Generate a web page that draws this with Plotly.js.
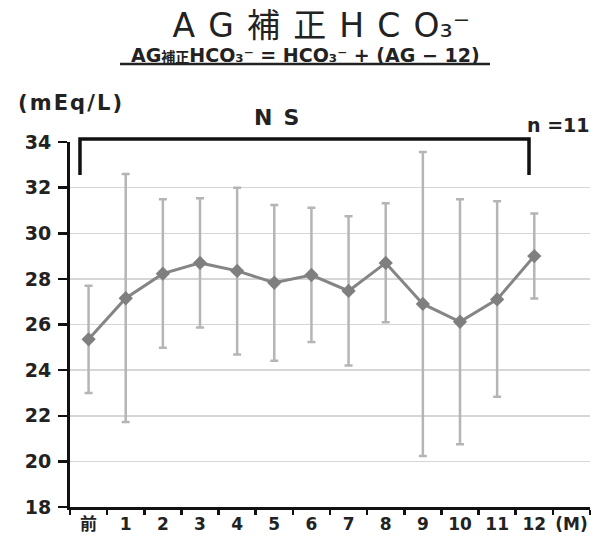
<!DOCTYPE html>
<html><head><meta charset="utf-8">
<script src="https://cdn.plot.ly/plotly-3.0.1.min.js"></script>
<style>body{margin:0;background:#fff}#c{width:604px;height:543px}</style>
</head><body><div id="c"></div>
<script>
// categories (months)
const months = ['前','1','2','3','4','5','6','7','8','9','10','11','12'];
const axisEndLabel = '(M)';
// mean AG-corrected HCO3- (mEq/L)
const meanVals = [25.35, 27.15, 28.23, 28.7, 28.35, 27.83, 28.17, 27.47, 28.7, 26.9, 26.12, 27.1, 29.0];
// error bar extents (upper / lower)
const errPlus  = [2.35, 5.45, 3.26, 2.83, 3.65, 3.41, 2.95, 3.28, 2.61, 6.66, 5.37, 4.3, 1.87];
const errMinus = [2.35, 5.42, 3.25, 2.83, 3.66, 3.42, 2.94, 3.27, 2.6, 6.66, 5.37, 4.27, 1.86];
const yTicks = [18, 20, 22, 24, 26, 28, 30, 32, 34];

const FB = '"DejaVu Sans", "Noto Sans CJK JP", sans-serif';
const EN = '\u2002', TH = '\u2009', HR = '\u200A';

const trace = {
  x: months, y: meanVals, type: 'scatter', mode: 'lines+markers',
  line: {color: '#858585', width: 3},
  marker: {symbol: 'diamond', size: 11, color: '#7f7f7f'},
  error_y: {type: 'data', symmetric: false, array: errPlus, arrayminus: errMinus,
            color: '#b5b5b5', thickness: 2.5, width: 4},
  cliponaxis: false, showlegend: false
};

const titleText = ['A','G','補','正','H','C','O'].join(TH + TH) + '\u2083\u207B';
const subText = 'AG<span style="font-size:14px">補正</span>HCO\u2083\u207B = HCO\u2083\u207B + (AG \u2212 12)';

const layout = {
  width: 604, height: 543,
  margin: {l: 70, r: 14, t: 142, b: 36},
  paper_bgcolor: '#fff', plot_bgcolor: '#fff',
  font: {family: FB, color: '#222'},
  title: {text: titleText, x: 0.532, xanchor: 'center', y: 0.953, yanchor: 'middle',
          yref: 'container', font: {family: FB, size: 33, color: '#222'}},
  xaxis: {type: 'category', categoryorder: 'array', categoryarray: months.concat([axisEndLabel]),
          range: [-0.5, 13.5], tickson: 'boundaries', ticks: 'outside', ticklen: 5, tickwidth: 2.5,
          tickcolor: '#111', showline: true, linecolor: '#111', linewidth: 3, showgrid: false, tickangle: 0,
          tickfont: {family: FB, size: 17, color: '#222', weight: 'bold'}, fixedrange: true},
  yaxis: {range: [18, 34], tickvals: yTicks, ticks: 'outside', ticklen: 9, tickwidth: 2.5, tickcolor: '#111',
          showline: true, linecolor: '#111', linewidth: 3, showgrid: true, gridcolor: '#d6d6d6', gridwidth: 1.5,
          zeroline: false, tickfont: {family: FB, size: 19, color: '#222', weight: 'bold'}, ticklabelstandoff: 3},
  shapes: [
    {type: 'path', xref: 'paper', yref: 'paper',
     path: 'M 0.0192 0.9096 L 0.0192 1.0082 L 0.8827 1.0082 L 0.8827 0.9096',
     line: {color: '#111', width: 3.5}},
    {type: 'line', xref: 'paper', yref: 'paper', x0: 0.0962, x1: 0.8077, y0: 1.2137, y1: 1.2137,
     line: {color: '#222', width: 2.5}}
  ],
  annotations: [
    {text: '<b>' + subText + '</b>',
     xref: 'paper', yref: 'paper', x: 0.452, y: 1.238, xanchor: 'center', yanchor: 'middle', showarrow: false,
     font: {family: FB, size: 19, color: '#222'}},
    {text: '<b>' + ['(','m','E','q','/','L',')'].join(HR) + '</b>', xref: 'paper', yref: 'paper', x: -0.104, y: 1.107,
     xanchor: 'left', yanchor: 'middle', showarrow: false, font: {family: FB, size: 21, color: '#222'}},
    {text: '<b>N' + EN + 'S</b>', xref: 'paper', yref: 'paper', x: 0.397, y: 1.068, xanchor: 'center', yanchor: 'middle',
     showarrow: false, font: {family: FB, size: 22, color: '#222'}},
    {text: '<b>n =11</b>', xref: 'paper', yref: 'paper', x: 1.004, y: 1.047, xanchor: 'right', yanchor: 'middle',
     showarrow: false, font: {family: FB, size: 19, color: '#222'}}
  ]
};

Plotly.newPlot('c', [trace], layout, {displayModeBar: false, staticPlot: true});
</script>
</body></html>
